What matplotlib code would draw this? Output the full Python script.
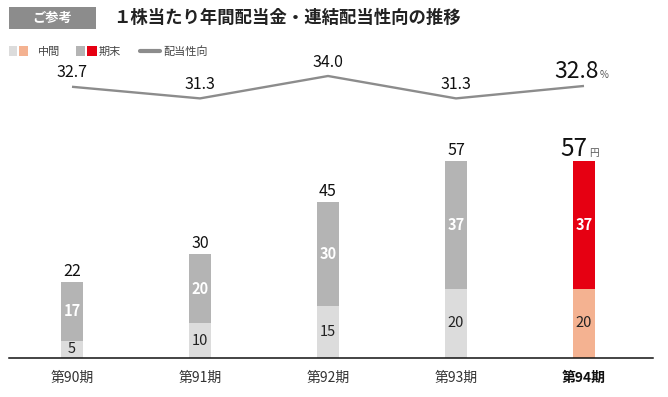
import matplotlib
matplotlib.use("Agg")
import matplotlib.pyplot as plt
from matplotlib.patches import Rectangle
from matplotlib.lines import Line2D

plt.rcParams['font.family'] = ['Noto Sans CJK JP', 'DejaVu Sans']

# ---- data ----
periods = ["第90期", "第91期", "第92期", "第93期", "第94期"]
interim = [5, 10, 15, 20, 20]
year_end = [17, 20, 30, 37, 37]
totals = [22, 30, 45, 57, 57]
payout = [32.7, 31.3, 34.0, 31.3, 32.8]

title_tag = "ご参考"
title = "１株当たり年間配当金・連結配当性向の推移"
legend_labels = ["中間", "期末", "配当性向"]

# ---- styles ----
c_int = "#DCDCDC"
c_end = "#B4B4B4"
c_int_hl = "#F4B291"
c_end_hl = "#E60012"
c_line = "#8C8C8C"

W, H = 668, 397
fig = plt.figure(figsize=(W / 100, H / 100), dpi=100)

# axes in pixel layout
left, right, bottom, top = 9, 653, 358, 40
ax = fig.add_axes([left / W, 1 - bottom / H, (right - left) / W, (bottom - top) / H])
ax.patch.set_visible(False)
x = list(range(len(periods)))
px_per_unit_x = 128
ax.set_xlim(-63 / px_per_unit_x, -63 / px_per_unit_x + (right - left) / px_per_unit_x)
ax.set_ylim(0, (bottom - top) / 3.456)

bw = 0.176
int_colors = [c_int] * 4 + [c_int_hl]
end_colors = [c_end] * 4 + [c_end_hl]
ax.bar(x, interim, width=bw, color=int_colors, zorder=2)
ax.bar(x, year_end, width=bw, bottom=interim, color=end_colors, zorder=2)

for i in x:
    # inner labels
    ax.text(i, interim[i] / 2, str(interim[i]), ha='center', va='center',
            fontsize=10.5, color="#222222")
    ax.text(i, interim[i] + year_end[i] / 2, str(year_end[i]), ha='center', va='center',
            fontsize=10.5, color="white", fontweight='bold')
    # totals
    if i < len(x) - 1:
        ax.annotate(str(totals[i]), xy=(i, totals[i]), xytext=(0, 6),
                    textcoords='offset pixels', ha='center', va='baseline',
                    fontsize=11.5, color="#111111")
    else:
        ax.annotate(str(totals[i]), xy=(i, totals[i]), xytext=(3, 5),
                    textcoords='offset pixels', ha='right', va='baseline',
                    fontsize=17.5, color="#111111")
        ax.annotate("円", xy=(i, totals[i]), xytext=(5, 5),
                    textcoords='offset pixels', ha='left', va='baseline',
                    fontsize=7, color="#555555")

for s in ['top', 'right', 'left']:
    ax.spines[s].set_visible(False)
ax.spines['bottom'].set_linewidth(1.1)
ax.spines['bottom'].set_color("#111111")
ax.set_yticks([])
ax.set_xticks(x, periods)
ax.tick_params(axis='x', length=0, pad=9, labelsize=10, labelcolor="#333333")
lbls = ax.get_xticklabels()
lbls[-1].set_fontweight('bold')
lbls[-1].set_color("#111111")

# payout ratio line
ax2 = ax.twinx()
ax2.patch.set_visible(False)
ax2.set_ylim(0, (bottom - top) / 8.294)
ax2.plot(x, payout, color=c_line, lw=1.7, solid_capstyle='butt', zorder=3)
ax2.axis('off')
for i in x:
    if i < len(x) - 1:
        ax2.annotate(f"{payout[i]:.1f}", xy=(i, payout[i]), xytext=(0, 9.5),
                     textcoords='offset pixels', ha='center', va='baseline',
                     fontsize=11.5, color="#111111")
    else:
        ax2.annotate(f"{payout[i]:.1f}", xy=(i, payout[i]), xytext=(15, 8),
                     textcoords='offset pixels', ha='right', va='baseline',
                     fontsize=16.5, color="#111111")
        ax2.annotate("%", xy=(i, payout[i]), xytext=(16, 8),
                     textcoords='offset pixels', ha='left', va='baseline',
                     fontsize=7, color="#555555")

# overlay for title & legend (pixel coordinates)
ov = fig.add_axes([0, 0, 1, 1], zorder=10)
ov.set_xlim(0, W)
ov.set_ylim(H, 0)
ov.axis('off')

ov.add_patch(Rectangle((9, 7), 87, 22, color="#8C8C8C", lw=0))
ov.text(52.5, 18, title_tag, ha='center', va='center', fontsize=9.5,
        color="white", fontweight='bold')
ov.text(113, 18, title, ha='left', va='center', fontsize=12.5,
        color="#222222", fontweight='bold')

ov.add_patch(Rectangle((9, 46), 8, 10, color=c_int, lw=0))
ov.add_patch(Rectangle((19, 46), 9, 10, color=c_int_hl, lw=0))
ov.text(38, 51.5, legend_labels[0], ha='left', va='center', fontsize=8, color="#444444")
ov.add_patch(Rectangle((76, 46), 9, 10, color=c_end, lw=0))
ov.add_patch(Rectangle((87, 46), 10, 10, color=c_end_hl, lw=0))
ov.text(99, 51.5, legend_labels[1], ha='left', va='center', fontsize=8, color="#444444")
ov.add_line(Line2D([140, 160], [51, 51], color=c_line, lw=3, solid_capstyle='round'))
ov.text(163, 51.5, legend_labels[2], ha='left', va='center', fontsize=8, color="#444444")

fig.savefig("out.png", dpi=100)
